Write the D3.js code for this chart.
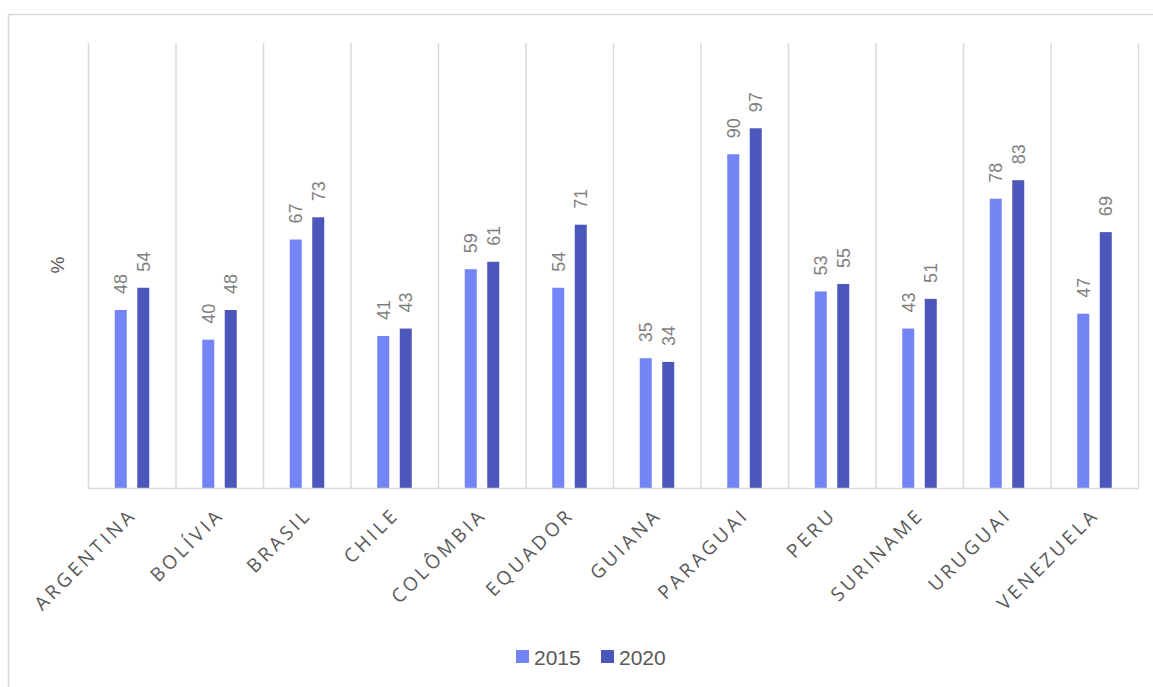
<!DOCTYPE html>
<html>
<head>
<meta charset="utf-8">
<script src="https://cdn.jsdelivr.net/npm/d3@7"></script>
<style>
  body { margin: 0; background: #fff; }
</style>
</head>
<body>
<div id="chart"></div>
<script>
  const countries = [ 'ARGENTINA', 'BOLÍVIA', 'BRASIL', 'CHILE', 'COLÔMBIA', 'EQUADOR',
                      'GUIANA', 'PARAGUAI', 'PERU', 'SURINAME', 'URUGUAI', 'VENEZUELA' ];
  const series = [ '2015', '2020' ];
  const values2015 = [ 48, 40, 67, 41, 59, 54, 35, 90, 53, 43, 78, 47 ];
  const values2020 = [ 54, 48, 73, 43, 61, 71, 34, 97, 55, 51, 83, 69 ];
  const yAxisTitle = '%';

  const bar_colors = [ '#7384f4', '#4c57bc' ];
  const labelColor = '#7f7f7f';
  const textColor = '#595959';

  const figure_width = 1153;
  const figure_height = 687;

  // plot area
  const plot_margin = { top: 43, right: 15, bottom: 199, left: 88 },
      plot_width = figure_width - plot_margin.left - plot_margin.right,
      plot_height = figure_height - plot_margin.top - plot_margin.bottom;

  const data = countries.map( function( c, i ) {
    return { country: c, '2015': values2015[ i ], '2020': values2020[ i ] };
  });

  const root = d3.select( 'div#chart' )
    .append( 'svg' )
      .attr( 'width', figure_width )
      .attr( 'height', figure_height );

  // outer frame of the chart
  root.append( 'rect' )
    .attr( 'x', 8.5 )
    .attr( 'y', 14.5 )
    .attr( 'width', figure_width + 10 )
    .attr( 'height', figure_height + 10 )
    .attr( 'fill', 'none' )
    .attr( 'stroke', '#d9d9d9' )
    .attr( 'stroke-width', 1.5 );

  const svg = root.append( 'g' )
    .attr( 'transform', 'translate(' + plot_margin.left + ',' + plot_margin.top + ')' );

  const x = d3.scaleBand()
    .domain( countries )
    .range( [ 0, plot_width ] );

  const y = d3.scaleLinear()
    .domain( [ 0, 120 ] )
    .range( [ plot_height, 0 ] );

  const xSubgroup = d3.scaleOrdinal()
    .domain( series )
    .range( [ -17, 5.5 ] );
  const barWidth = 12;

  const color = d3.scaleOrdinal()
    .domain( series )
    .range( bar_colors );

  // vertical gridlines between categories
  const edges = countries.map( function( c ) { return x( c ); } ).concat( [ plot_width ] );
  svg.append( 'g' )
    .selectAll( 'line' )
    .data( edges )
    .enter()
    .append( 'line' )
      .attr( 'x1', function( d ) { return d + 0.5; } )
      .attr( 'x2', function( d ) { return d + 0.5; } )
      .attr( 'y1', 0 )
      .attr( 'y2', plot_height )
      .attr( 'stroke', '#d9d9d9' )
      .attr( 'stroke-width', 1.5 );

  // bars
  const groups = svg.append( 'g' )
    .selectAll( 'g' )
    .data( data )
    .enter()
    .append( 'g' )
      .attr( 'transform', function( d ) { return 'translate(' + ( x( d.country ) + x.bandwidth() / 2 ) + ',0)'; } );

  const cells = groups.selectAll( 'g' )
    .data( function( d ) { return series.map( function( key ) { return { key: key, value: d[ key ] }; } ); } )
    .enter()
    .append( 'g' );

  cells.append( 'rect' )
    .attr( 'x', function( d ) { return xSubgroup( d.key ); } )
    .attr( 'y', function( d ) { return y( d.value ); } )
    .attr( 'width', barWidth )
    .attr( 'height', function( d ) { return plot_height - y( d.value ); } )
    .attr( 'fill', function( d ) { return color( d.key ); } );

  // value labels, rotated
  cells.append( 'text' )
    .attr( 'transform', function( d ) {
      return 'translate(' + ( xSubgroup( d.key ) + barWidth / 2 ) + ',' + ( y( d.value ) - 16 ) + ') rotate(-90)';
    })
    .attr( 'dy', '0.35em' )
    .attr( 'text-anchor', 'start' )
    .attr( 'fill', labelColor )
    .style( 'font', '18px "Liberation Sans", Arial, sans-serif' )
    .text( function( d ) { return d.value; } );

  // x axis baseline
  svg.append( 'line' )
    .attr( 'x1', 0 )
    .attr( 'x2', plot_width + 1 )
    .attr( 'y1', plot_height + 0.5 )
    .attr( 'y2', plot_height + 0.5 )
    .attr( 'stroke', '#d9d9d9' )
    .attr( 'stroke-width', 1.5 );

  // category labels at -45 degrees
  svg.append( 'g' )
    .selectAll( 'text' )
    .data( countries )
    .enter()
    .append( 'text' )
      .attr( 'transform', function( d ) {
        return 'translate(' + ( x( d ) + x.bandwidth() / 2 + 6 ) + ',' + ( plot_height + 28 ) + ') rotate(-45)';
      })
      .attr( 'text-anchor', 'end' )
      .attr( 'fill', textColor )
      .style( 'font', '19px "Open Sans", "DejaVu Sans", sans-serif' )
      .style( 'letter-spacing', '3.4px' )
      .text( function( d ) { return d; } );

  // y axis title
  svg.append( 'text' )
    .attr( 'transform', 'translate(' + ( 57 - plot_margin.left ) + ',' + ( 265 - plot_margin.top ) + ') rotate(-90)' )
    .attr( 'text-anchor', 'middle' )
    .attr( 'dy', '0.35em' )
    .attr( 'fill', textColor )
    .style( 'font', '19px "Liberation Sans", Arial, sans-serif' )
    .text( yAxisTitle );

  // legend
  const legend = root.append( 'g' )
    .selectAll( 'g' )
    .data( series )
    .enter()
    .append( 'g' )
      .attr( 'transform', function( d, i ) { return 'translate(' + ( 516 + i * 85 ) + ',650)'; } );

  legend.append( 'rect' )
    .attr( 'width', 13 )
    .attr( 'height', 13 )
    .attr( 'fill', function( d ) { return color( d ); } );

  legend.append( 'text' )
    .attr( 'x', 18 )
    .attr( 'y', 15 )
    .attr( 'fill', textColor )
    .style( 'font', '21px "Liberation Sans", Arial, sans-serif' )
    .text( function( d ) { return d; } );
</script>
</body>
</html>
